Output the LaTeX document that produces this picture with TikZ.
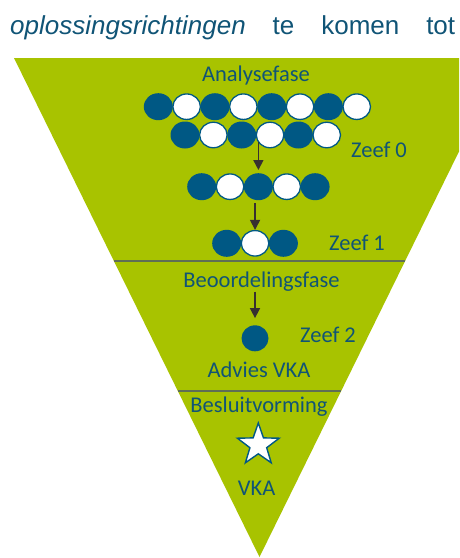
\documentclass[tikz,border=0pt]{standalone}
\usepackage{fontspec}
\setmainfont{Carlito}
\newfontfamily\arialfont{Liberation Sans}
\usetikzlibrary{arrows.meta,shapes.geometric}
\definecolor{FunnelClr}{RGB}{168,195,0}
\definecolor{DotClr}{RGB}{0,88,132}
\definecolor{TextClr}{RGB}{16,84,118}
\definecolor{LineClr}{RGB}{95,110,85}
\definecolor{ArrowClr}{RGB}{55,48,48}

\begin{document}
\begin{tikzpicture}[x=1pt,y=-1pt,
  lbl/.style={text=TextClr,font=\fontsize{22.5}{25}\selectfont,inner sep=0pt},
  fulldot/.style={ellipse,fill=DotClr,minimum width=29pt,minimum height=27pt,inner sep=0pt},
  opendot/.style={ellipse,fill=white,draw=DotClr,line width=1.3pt,minimum width=27.5pt,minimum height=25.5pt,inner sep=0pt},
  pijl/.style={-{Triangle[length=10pt,width=10pt]},line width=1.6pt,draw=ArrowClr},
  scheiding/.style={LineClr,line width=1.4pt}]
\useasboundingbox (0,0) rectangle (459,558);

\node[anchor=base west,inner sep=0pt,text=TextClr,font=\arialfont\fontsize{26}{30}\selectfont] (kop) at (10,34.5)
  {\makebox[445pt][s]{\textit{oplossingsrichtingen} te komen tot}};

\fill[FunnelClr] (14,58) -- (459,58) -- (459,151.5) -- (259.5,557) -- cycle;
\draw[scheiding] (113.9,261) -- (405.1,261);
\draw[scheiding] (177.8,391) -- (341.2,391);

\foreach \r/\x/\y/\vol/\leeg in {1/158.3/106.7/{1,3,5,7}/{2,4,6,8}, 2/185/135/{1,3,5}/{2,4,6},
                                  3/201.7/186.7/{1,3,5}/{2,4}, 4/226.7/243.3/{1,3}/{2}}{
  \foreach \i in \vol
    \node[fulldot] (r\r-\i) at ({\x+28.35*(\i-1)},\y) {};
  \foreach \i in \leeg
    \node[opendot] (r\r-\i) at ({\x+28.35*(\i-1)},\y) {};
}

\node[lbl] (analyse) at (256,75) {Analysefase};
\node[lbl] (zeef0) at (379,150) {Zeef 0};
\node[lbl] (zeef1) at (357,243) {Zeef 1};
\node[lbl] (beoord) at (261.5,281.7) {Beoordelingsfase};
\node[fulldot,minimum width=27pt,minimum height=26pt] (advdot) at (255,338.3) {};
\node[lbl] (zeef2) at (328,335) {Zeef 2};
\node[lbl] (advies) at (259,370) {Advies VKA};
\node[lbl] (besluit) at (259,406.7) {Besluitvorming};
\node[star,star points=5,star point ratio=2.5,minimum size=44pt,inner sep=0pt,draw=DotClr,fill=white,line width=1.4pt] (ster) at (258.3,445) {};
\node[lbl] (vka) at (256.7,488.3) {VKA};

\draw[pijl,shorten <=7pt,shorten >=3pt] (r3-3.north |- r2-3.center) -- (r3-3.north);
\draw[pijl,shorten <=3pt] (r3-3.south -| r4-2.north) -- (r4-2.north);
\draw[pijl,shorten >=7pt] (beoord.south -| advdot.north) -- (advdot.north);

\end{tikzpicture}
\end{document}
